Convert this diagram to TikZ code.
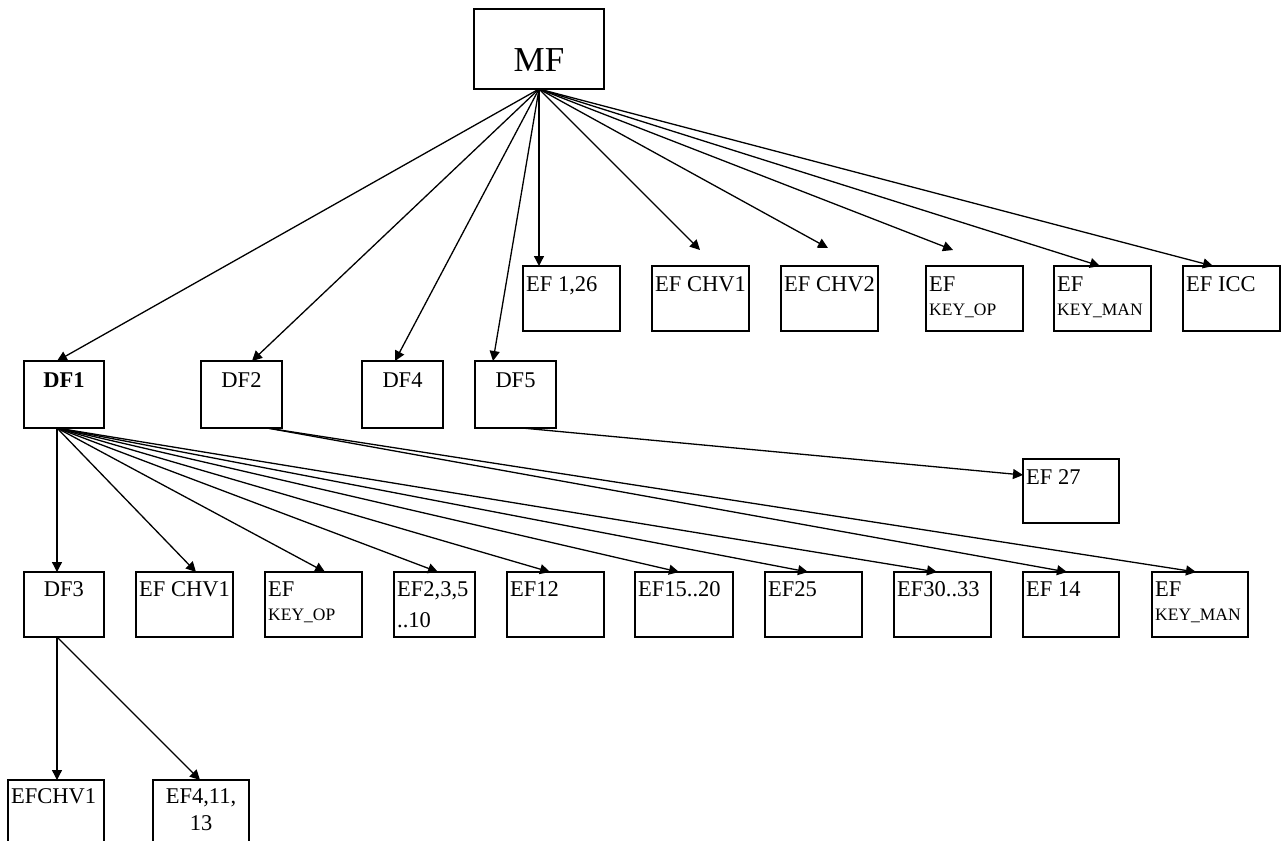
\documentclass[tikz,border=0pt]{standalone}
\usepackage{fontspec}
\setmainfont{Liberation Serif}
\usetikzlibrary{arrows.meta}
\newcommand\fbig{\fontsize{22.5}{24}\selectfont}
\newcommand\fsmall{\fontsize{17.5}{20}\selectfont}
\begin{document}
\begin{tikzpicture}[x=1pt,y=-1pt,
  box/.style={draw, line width=1.4pt, inner sep=0pt, outer sep=0pt, anchor=north west, minimum height=65pt},
  lab/.style={anchor=base west, inner sep=0pt, font=\fbig},
  clab/.style={anchor=base, inner sep=0pt, font=\fbig},
  conn/.style={line width=1.3pt, -{Triangle[length=10pt,width=10pt]}}
]
\useasboundingbox (0,0) rectangle (1281,840);
\clip (0,0) rectangle (1281,840);

% root
\node[box, minimum width=130pt, minimum height=80pt] (mf) at (474,9) {};
\node[anchor=base, inner sep=0pt, font=\fontsize{35}{40}\selectfont] at ([yshift=-63pt]mf.north) {MF};

% top row
\node[box, minimum width=97pt] (ef126) at (523,266) {};
\node[box, minimum width=97pt] (tchv1) at (652,266) {};
\node[box, minimum width=97pt] (tchv2) at (781,266) {};
\node[box, minimum width=97pt] (tkeyop) at (926,266) {};
\node[box, minimum width=97pt] (tkeyman) at (1054,266) {};
\node[box, minimum width=97pt] (ticc) at (1183,266) {};
\node[lab] at ([xshift=3pt,yshift=-25pt]ef126.north west) {EF 1,26};
\node[lab] at ([xshift=3pt,yshift=-25pt]tchv1.north west) {EF CHV1};
\node[lab] at ([xshift=3pt,yshift=-25pt]tchv2.north west) {EF CHV2};
\node[lab] at ([xshift=3pt,yshift=-25pt]tkeyop.north west) {\begin{tabular}[t]{@{}l@{}}EF\\{\fsmall KEY\_OP}\end{tabular}};
\node[lab] at ([xshift=3pt,yshift=-25pt]tkeyman.north west) {\begin{tabular}[t]{@{}l@{}}EF\\{\fsmall KEY\_MAN}\end{tabular}};
\node[lab] at ([xshift=3pt,yshift=-25pt]ticc.north west) {EF ICC};

% DF row
\node[box, minimum width=80pt, minimum height=67pt, line width=2.6pt] (df1) at (24,361) {};
\node[box, minimum width=81pt, minimum height=67pt] (df2) at (201,361) {};
\node[box, minimum width=81pt, minimum height=67pt] (df4) at (362,361) {};
\node[box, minimum width=81pt, minimum height=67pt] (df5) at (475,361) {};
\node[clab, font=\fbig\bfseries] at ([yshift=-26pt]df1.north) {DF1};
\node[clab] at ([yshift=-26pt]df2.north) {DF2};
\node[clab] at ([yshift=-26pt]df4.north) {DF4};
\node[clab] at ([yshift=-26pt]df5.north) {DF5};

% EF 27
\node[box, minimum width=96pt, minimum height=64pt] (ef27) at (1023,459) {};
\node[lab] at ([xshift=3pt,yshift=-25pt]ef27.north west) {EF 27};

% bottom row
\node[box, minimum width=80pt] (df3) at (24,572) {};
\node[box, minimum width=97pt] (bchv1) at (136,572) {};
\node[box, minimum width=97pt] (bkeyop) at (265,572) {};
\node[box, minimum width=81pt] (bef2) at (394,572) {};
\node[box, minimum width=97pt] (bef12) at (507,572) {};
\node[box, minimum width=98pt] (bef15) at (635,572) {};
\node[box, minimum width=97pt] (bef25) at (765,572) {};
\node[box, minimum width=97pt] (bef30) at (894,572) {};
\node[box, minimum width=96pt] (bef14) at (1023,572) {};
\node[box, minimum width=96pt] (bkeyman) at (1152,572) {};
\node[clab] at ([yshift=-24pt]df3.north) {DF3};
\node[lab] at ([xshift=3pt,yshift=-24pt]bchv1.north west) {EF CHV1};
\node[lab] at ([xshift=3pt,yshift=-24pt]bkeyop.north west) {\begin{tabular}[t]{@{}l@{}}EF\\{\fsmall KEY\_OP}\end{tabular}};
\node[lab] at ([xshift=3pt,yshift=-24pt]bef2.north west) {\begin{tabular}[t]{@{}l@{}}EF2,3,5\\[7pt]..10\end{tabular}};
\node[lab] at ([xshift=3pt,yshift=-24pt]bef12.north west) {EF12};
\node[lab] at ([xshift=3pt,yshift=-24pt]bef15.north west) {EF15..20};
\node[lab] at ([xshift=3pt,yshift=-24pt]bef25.north west) {EF25};
\node[lab] at ([xshift=3pt,yshift=-24pt]bef30.north west) {EF30..33};
\node[lab] at ([xshift=3pt,yshift=-24pt]bef14.north west) {EF 14};
\node[lab] at ([xshift=3pt,yshift=-24pt]bkeyman.north west) {\begin{tabular}[t]{@{}l@{}}EF\\{\fsmall KEY\_MAN}\end{tabular}};

% lowest row
\node[box, minimum width=96pt, minimum height=70pt] (efchv1) at (8,780) {};
\node[box, minimum width=96pt, minimum height=70pt] (ef4) at (153,780) {};
\node[lab] at ([xshift=3pt,yshift=-23pt]efchv1.north west) {EFCHV1};
\node[clab] at ([yshift=-23pt]ef4.north) {\begin{tabular}[t]{@{}c@{}}EF4,11,\\[3pt]13\end{tabular}};

% connectors from MF
\draw[conn] (mf.south) -- ([xshift=33pt]df1.north west);
\draw[conn] (mf.south) -- ([xshift=51pt]df2.north west);
\draw[conn] (mf.south) -- ([xshift=33pt]df4.north west);
\draw[conn] (mf.south) -- ([xshift=18pt]df5.north west);
\draw[conn] (mf.south) -- ([xshift=16pt]ef126.north west);
\draw[conn] (mf.south) -- ([xshift=48pt,yshift=16pt]tchv1.north west);
\draw[conn] (mf.south) -- ([xshift=47pt,yshift=18pt]tchv2.north west);
\draw[conn] (mf.south) -- ([xshift=27pt,yshift=16pt]tkeyop.north west);
\draw[conn] (mf.south) -- ([xshift=46pt]tkeyman.north west);
\draw[conn] (mf.south) -- ([xshift=30pt]ticc.north west);

% connectors from DF1
\draw[conn] ([xshift=33pt]df1.south west) -- ([xshift=33pt]df3.north west);
\draw[conn] ([xshift=33pt]df1.south west) -- ([xshift=60pt]bchv1.north west);
\draw[conn] ([xshift=33pt]df1.south west) -- ([xshift=60pt]bkeyop.north west);
\draw[conn] ([xshift=33pt]df1.south west) -- ([xshift=44pt]bef2.north west);
\draw[conn] ([xshift=33pt]df1.south west) -- ([xshift=43pt]bef12.north west);
\draw[conn] ([xshift=33pt]df1.south west) -- ([xshift=44pt]bef15.north west);
\draw[conn] ([xshift=33pt]df1.south west) -- ([xshift=43pt]bef25.north west);
\draw[conn] ([xshift=33pt]df1.south west) -- ([xshift=43pt]bef30.north west);

% connectors from DF2
\draw[conn] ([xshift=66pt]df2.south west) -- ([xshift=44pt]bef14.north west);
\draw[conn] ([xshift=66pt]df2.south west) -- ([xshift=44pt]bkeyman.north west);

% DF5 to EF 27
\draw[conn] ([xshift=47pt]df5.south west) -- ([yshift=-16pt]ef27.north west);

% DF3 children
\draw[conn] ([xshift=33pt]df3.south west) -- ([xshift=49pt]efchv1.north west);
\draw[conn] ([xshift=33pt]df3.south west) -- ([xshift=47pt]ef4.north west);
\end{tikzpicture}
\end{document}
